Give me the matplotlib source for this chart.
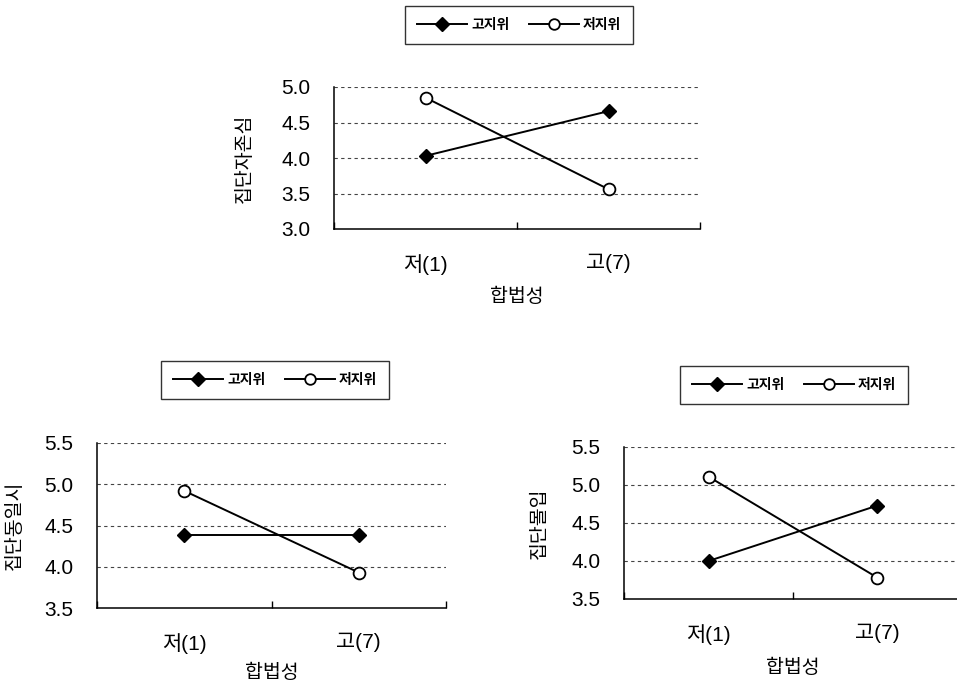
import matplotlib.pyplot as plt

plt.rcParams['font.family'] = ['Liberation Sans', 'Noto Sans CJK KR', 'DejaVu Sans']

categories = ['저(1)', '고(7)']
series_names = ['고지위', '저지위']
x_title = '합법성'

# group self-esteem
esteem_high = [4.03, 4.66]
esteem_low = [4.85, 3.56]
# group identification
ident_high = [4.39, 4.39]
ident_low = [4.92, 3.93]
# group commitment
commit_high = [4.00, 4.73]
commit_low = [5.11, 3.78]

W, H = 957, 687


def px_rect(left, top, right, bottom):
    return [left / W, 1 - bottom / H, (right - left) / W, (bottom - top) / H]


def draw_panel(fig, rect, high, low, ylabel, ylim, yticks, label_x, xlabel_y, legend_xy):
    ax = fig.add_axes(rect)
    xs = [0.5, 1.5]
    l1, = ax.plot(xs, high, color='black', lw=1.4, marker='D', ms=7.5,
                  mfc='black', mec='black', clip_on=False, zorder=3)
    l2, = ax.plot(xs, low, color='black', lw=1.4, marker='o', ms=8.5,
                  mfc='white', mec='black', mew=1.3, clip_on=False, zorder=3)
    ax.set_xlim(0, 2)
    ax.set_ylim(*ylim)
    ax.set_yticks(yticks)
    ax.set_yticklabels([f'{t:.1f}' for t in yticks], fontsize=15)
    ax.set_xticks([0, 1, 2])
    ax.set_xticklabels([])
    ax.set_xticks(xs, minor=True)
    ax.set_xticklabels(categories, minor=True, fontsize=15)
    ax.tick_params(axis='x', which='major', direction='in', length=5, width=1)
    ax.tick_params(axis='x', which='minor', length=0, pad=18)
    ax.tick_params(axis='y', length=0, pad=17)
    for t in yticks[1:]:
        ax.axhline(t, color='#444444', lw=0.8, ls=(0, (3, 3)), zorder=1)
    for s in ['top', 'right']:
        ax.spines[s].set_visible(False)
    for s in ['left', 'bottom']:
        ax.spines[s].set_linewidth(1.1)
    ax.set_ylabel(ylabel, fontsize=14)
    ax.yaxis.label.set_va('center')
    ax.yaxis.set_label_coords(label_x, 0.5)
    ax.set_xlabel(x_title, fontsize=14)
    ax.xaxis.label.set_va('center')
    ax.xaxis.set_label_coords(0.5, xlabel_y)
    fig.legend([l1, l2], series_names, loc='center',
               bbox_to_anchor=(legend_xy[0] / W, 1 - legend_xy[1] / H),
               ncol=2, frameon=True, fancybox=False, edgecolor='black',
               handlelength=3.6, columnspacing=1.4, handletextpad=0.3,
               borderpad=0.85, markerscale=0.9,
               prop={'weight': 'bold', 'size': 10})
    return ax


fig = plt.figure(figsize=(W / 100, H / 100), dpi=100)

draw_panel(fig, px_rect(334, 87, 700, 229), esteem_high, esteem_low, '집단자존심',
           (3.0, 5.0), [3.0, 3.5, 4.0, 4.5, 5.0], -0.243, -0.479, (519, 25))
draw_panel(fig, px_rect(97, 443, 446, 608), ident_high, ident_low, '집단동일시',
           (3.5, 5.5), [3.5, 4.0, 4.5, 5.0, 5.5], -0.235, -0.394, (275, 380))
draw_panel(fig, px_rect(624, 447, 962, 599), commit_high, commit_low, '집단몰입',
           (3.5, 5.5), [3.5, 4.0, 4.5, 5.0, 5.5], -0.249, -0.454, (794, 385))

fig.savefig('out.png', dpi=100)
